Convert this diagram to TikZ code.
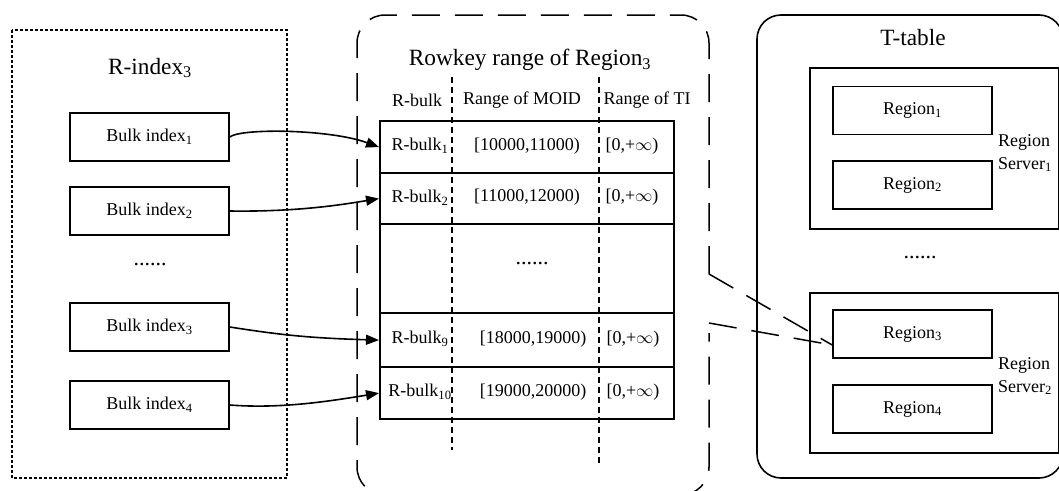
\documentclass[tikz,border=0pt]{standalone}
\usepackage{fontspec}
\setmainfont{Liberation Serif}
\usetikzlibrary{arrows.meta,calc}
\newcommand\sbs[1]{\textsubscript{#1}}

\begin{document}
\begin{tikzpicture}[x=1pt,y=-1pt,
  body/.style={font=\fontsize{18}{21}\selectfont, inner sep=0pt},
  heading/.style={font=\fontsize{23.3}{27}\selectfont, inner sep=0pt},
  dots/.style={font=\fontsize{22}{26}\selectfont, inner sep=0pt},
  box/.style={draw, line width=1.6pt, minimum width=159pt, minimum height=48pt,
              font=\fontsize{18}{21}\selectfont, inner sep=0pt},
  server/.style={draw, line width=1.6pt, minimum width=249pt, minimum height=161pt,
                 anchor=north west, inner sep=0pt},
  row/.style={draw, line width=2.2pt, minimum width=294pt, anchor=north west, inner sep=0pt},
  link/.style={line width=1.6pt, -{Triangle[length=13pt,width=10pt]}},
  coldash/.style={line width=1.1pt, dash pattern=on 6pt off 4pt},
  bigdash/.style={line width=1.5pt, dash pattern=on 28pt off 15pt},
]
\useasboundingbox (0,0) rectangle (1059,490);

% ---------------- R-index ----------------
\draw[line width=1.3pt, dash pattern=on 3pt off 2pt] (12,30) rectangle (287,478);
\node[heading] (ridx) at (150,68) {R-index\sbs{3}};
\node[box] (b1) at (149.5,137) {Bulk index\sbs{1}};
\node[box] (b2) at (149.5,211) {Bulk index\sbs{2}};
\node[dots] (bdots) at (150,265) {......};
\node[box] (b3) at (149.5,327) {Bulk index\sbs{3}};
\node[box] (b4) at (149.5,405) {Bulk index\sbs{4}};

% ---------------- Rowkey range ----------------
\draw[bigdash, rounded corners=28pt] (709,274) -- (709,15) -- (357,15) -- (357,495)
      -- (709,495) -- (709,333);
\node[heading] (rtitle) at (530,60) {Rowkey range of Region\sbs{3}};

\node[row, minimum height=52pt] (r1) at (379,120) {};
\node[row, minimum height=51pt] (r2) at (379,172) {};
\node[row, minimum height=89pt] (rd) at (379,223) {};
\node[row, minimum height=54pt] (r9) at (379,312) {};
\node[row, minimum height=52pt] (r10) at (379,366) {};

\draw[coldash] (452,77) -- (452,450);
\draw[coldash] (599,77) -- (599,463);

\node[body] (h1) at (417,100) {R-bulk};
\node[body] (h2) at (522,100) {Range of MOID};
\node[body] (h3) at (647,100) {Range of TI};

\node[body] (k1) at (420,146) {R-bulk\sbs{1}};
\node[body] (m1) at (527,146) {[10000,11000)};
\node[body] (t1) at (632,146) {[0,+$\infty$)};

\node[body] (k2) at (420,197.5) {R-bulk\sbs{2}};
\node[body] (m2) at (527,197.5) {[11000,12000)};
\node[body] (t2) at (632,197.5) {[0,+$\infty$)};

\node[dots] (rdots) at (532,264) {......};

\node[body] (k9) at (420,339) {R-bulk\sbs{9}};
\node[body] (m9) at (533,339) {[18000,19000)};
\node[body] (t9) at (633,339) {[0,+$\infty$)};

\node[body] (k10) at (420,392) {R-bulk\sbs{10}};
\node[body] (m10) at (533,392) {[19000,20000)};
\node[body] (t10) at (633,392) {[0,+$\infty$)};

% ---------------- T-table ----------------
\draw[line width=1.6pt, rounded corners=24pt] (757,15) rectangle (1063,478);
\node[heading] (ttitle) at (913,38) {T-table};

\node[server] (s1) at (809,67) {};
\node[box] (reg1) at (912.5,110.5) {Region\sbs{1}};
\node[box] (reg2) at (912.5,185) {Region\sbs{2}};
\node[body, align=left] (s1lbl) at (1025,153) {Region\\[2pt]Server\sbs{1}};

\node[dots] (tdots) at (920,258) {......};

\node[server, minimum height=160pt] (s2) at (809,292) {};
\node[box] (reg3) at (912.5,334) {Region\sbs{3}};
\node[box] (reg4) at (912.5,409) {Region\sbs{4}};
\node[body, align=left] (s2lbl) at (1025,376) {Region\\[2pt]Server\sbs{2}};

% ---------------- connectors ----------------
\draw[link] (b1.east) .. controls +(11,-9) and +(-49,-18) .. (r1.west);
\draw[link] (b2.east) .. controls +(70,1) and +(-34,5.5) .. (r2.west);
\draw[link] (b3.east) .. controls +(51,8) and +(-69,-2) .. (r9.west);
\draw[link] (b4.east) .. controls +(51,4) and +(-49,8) .. (r10.west);

\coordinate (c1) at (709,274);
\coordinate (c2) at (709,323);
\coordinate (cend) at ($(reg3.west)+(0,11)$);
\draw[bigdash] (c1) -- (cend);
\draw[bigdash] (c2) -- (cend);
\end{tikzpicture}
\end{document}
